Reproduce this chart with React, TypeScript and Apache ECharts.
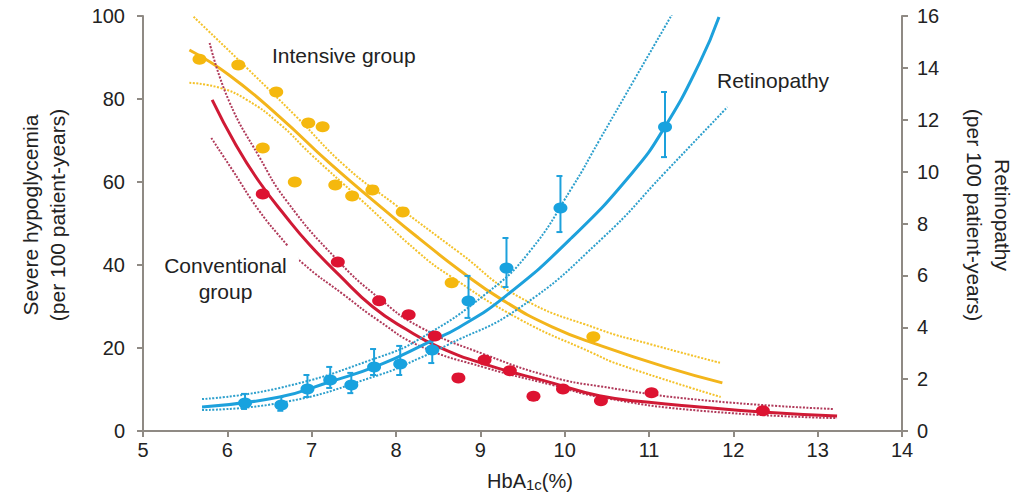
import React, { useEffect, useRef } from "react";
import * as echarts from "echarts";

const FONT = '"Liberation Sans", Arial, Helvetica, sans-serif';

// Severe hypoglycemia, intensive group: observed rates, fitted curve and confidence band
const intensivePoints: [number, number][] = [
  [5.67, 89.6], [6.13, 88.2], [6.42, 68.2], [6.58, 81.7], [6.8, 60.0], [6.96, 74.2],
  [7.13, 73.3], [7.28, 59.3], [7.48, 56.6], [7.72, 58.1], [8.08, 52.8], [8.66, 35.7],
  [10.34, 22.7],
];
const intensiveFit: [number, number][] = [
  [5.55, 91.8], [6.02, 85.8], [6.62, 75.7], [7.21, 64.6], [7.96, 51.6], [8.28, 46.3],
  [8.75, 38.8], [9.26, 31.6], [9.85, 25.1], [10.41, 20.7], [11.2, 15.4], [11.87, 11.6],
];
const intensiveUpper: [number, number][] = [
  [5.6, 99.8], [6.23, 87.5], [6.82, 75.7], [7.41, 63.6], [7.96, 55], [8.75, 43],
  [9.46, 32.3], [10.41, 24.5], [11.0, 21], [11.85, 16.4],
];
const intensiveLower: [number, number][] = [
  [5.55, 83.9], [5.91, 82.7], [6.23, 79.8], [6.62, 74], [7.0, 66.5], [7.57, 56],
  [8.28, 42.8], [8.63, 37.5], [9.46, 27], [10.33, 18.8], [10.65, 16], [11.85, 8.2],
];

// Severe hypoglycemia, conventional group
const conventionalPoints: [number, number][] = [
  [6.42, 57.1], [7.31, 40.7], [7.8, 31.4], [8.15, 28.0], [8.46, 22.9], [8.74, 12.8],
  [9.05, 17.1], [9.35, 14.5], [9.63, 8.4], [9.98, 10.1], [10.43, 7.3], [11.03, 9.2],
  [12.35, 4.9],
];
const conventionalFit: [number, number][] = [
  [5.82, 79.8], [6.1, 69], [6.38, 60], [6.7, 51.5], [6.97, 45], [7.33, 37.5], [7.72, 30],
  [8.12, 24.5], [8.51, 20.2], [9.07, 16], [9.85, 11.6], [10.41, 8.5], [11.0, 6.9],
  [11.6, 5.8], [12.34, 4.6], [13.23, 3.6],
];
const conventionalUpper: [number, number][] = [
  [5.79, 93.5], [6.02, 79.5], [6.38, 66], [6.7, 55.5], [7.29, 41.5], [7.8, 32],
  [8.28, 25.1], [9.07, 18.3], [9.85, 13.0], [10.41, 10.8], [11.6, 7.5], [13.19, 5.3],
];
const conventionalLower: [number, number][] = [
  [5.81, 70.6], [6.06, 62.9], [6.38, 53], [6.7, 45], [6.89, 40.5], [7.37, 33], [7.8, 26.5],
  [8.28, 20.5], [9.07, 15.2], [9.85, 11.1], [10.41, 8.2], [11.6, 4.9], [13.23, 3.1],
];

// Retinopathy (right axis): observed rates with error bars, fitted curve and band
const retinopathyPoints: [number, number][] = [
  [6.21, 1.08], [6.64, 1.0], [6.95, 1.62], [7.22, 1.97], [7.47, 1.77], [7.74, 2.47],
  [8.05, 2.58], [8.43, 3.12], [8.86, 5.01], [9.31, 6.28], [9.95, 8.6], [11.19, 11.72],
];
const retinopathyLow = [0.85, 0.78, 1.31, 1.66, 1.46, 2.16, 2.16, 2.62, 4.36, 5.55, 7.67, 10.56];
const retinopathyHigh = [1.43, 1.31, 2.16, 2.47, 2.24, 3.16, 3.28, 3.82, 5.98, 7.44, 9.83, 13.07];
const retinopathyFit: [number, number][] = [
  [5.7, 0.93], [6.62, 1.31], [7.21, 1.89], [7.8, 2.54], [8.39, 3.43], [8.75, 4.0],
  [9.3, 5.2], [10.08, 7.44], [10.8, 9.95], [11.18, 11.68], [11.6, 14.19], [11.83, 15.96],
];
const retinopathyUpper: [number, number][] = [
  [5.7, 1.23], [6.62, 1.66], [7.8, 2.85], [8.28, 3.55], [9.07, 5.3], [9.58, 6.9],
  [10.09, 9.4], [10.41, 11.2], [10.8, 13.4], [11.27, 16.04],
];
const retinopathyLower: [number, number][] = [
  [5.7, 0.81], [6.62, 1.08], [7.8, 2.16], [8.28, 2.81], [8.6, 3.3], [9.46, 4.74],
  [10.45, 7.44], [11.2, 10.0], [11.93, 12.49],
];

const YELLOW = "#F3B51B";
const YELLOW_DOT = "#F4C22A";
const RED = "#D01A35";
const RED_DOT = "#B03A5A";
const BLUE = "#1DA1DC";
const BLUE_DOT = "#2C9FCC";
const AXIS = "#8F8A84";
const TEXT = "#222";

function curve(data: [number, number][], color: string, yAxisIndex = 0) {
  return {
    type: "line",
    data,
    yAxisIndex,
    smooth: 0.5,
    showSymbol: false,
    silent: true,
    lineStyle: { color, width: 3 },
    z: 2,
  };
}

function band(data: [number, number][], color: string, yAxisIndex = 0) {
  return {
    type: "line",
    data,
    yAxisIndex,
    smooth: 0.5,
    showSymbol: false,
    silent: true,
    lineStyle: { color, width: 2, type: [2, 1.5] },
    z: 2,
  };
}

function points(data: [number, number][], color: string, yAxisIndex = 0) {
  return {
    type: "scatter",
    data,
    yAxisIndex,
    symbol: "circle",
    symbolSize: [14, 11],
    itemStyle: { color, opacity: 1 },
    z: 5,
  };
}

export default function App() {
  const ref = useRef<HTMLDivElement>(null);

  useEffect(() => {
    if (!ref.current) return;
    const chart = echarts.init(ref.current, undefined, { renderer: "svg" });

    const errorBars = retinopathyPoints.map((p, i) => [p[0], retinopathyLow[i], retinopathyHigh[i]]);

    const axisLine = { show: true, lineStyle: { color: AXIS, width: 2 } };
    const axisTick = { show: true, length: 6, lineStyle: { color: AXIS, width: 2 } };
    const label = { color: TEXT, fontSize: 20, fontFamily: FONT };

    chart.setOption({
      animation: false,
      backgroundColor: "#fff",
      grid: { left: 143, right: 131, top: 16, bottom: 63 },
      xAxis: {
        type: "value",
        min: 5,
        max: 14,
        interval: 1,
        axisLine: { ...axisLine, onZero: false },
        axisTick,
        axisLabel: { ...label, margin: 9 },
        splitLine: { show: false },
      },
      yAxis: [
        {
          type: "value",
          min: 0,
          max: 100,
          interval: 20,
          position: "left",
          axisLine,
          axisTick,
          axisLabel: { ...label, margin: 18 },
          splitLine: { show: false },
        },
        {
          type: "value",
          min: 0,
          max: 16,
          interval: 2,
          position: "right",
          axisLine,
          axisTick,
          axisLabel: { ...label, margin: 15 },
          splitLine: { show: false },
        },
      ],
      series: [
        band(intensiveUpper, YELLOW_DOT),
        band(intensiveLower, YELLOW_DOT),
        curve(intensiveFit, YELLOW),
        band(conventionalUpper, RED_DOT),
        band(conventionalLower, RED_DOT),
        curve(conventionalFit, RED),
        band(retinopathyUpper, BLUE_DOT, 1),
        band(retinopathyLower, BLUE_DOT, 1),
        curve(retinopathyFit, BLUE, 1),
        {
          type: "custom",
          yAxisIndex: 1,
          data: errorBars,
          encode: { x: 0, y: [1, 2] },
          silent: true,
          z: 4,
          renderItem: (_params: any, api: any) => {
            const x = api.value(0);
            const lo = api.coord([x, api.value(1)]);
            const hi = api.coord([x, api.value(2)]);
            const style = { stroke: BLUE, lineWidth: 2 };
            return {
              type: "group",
              children: [
                { type: "line", shape: { x1: hi[0], y1: hi[1], x2: lo[0], y2: lo[1] }, style },
                { type: "line", shape: { x1: hi[0] - 4, y1: hi[1], x2: hi[0] + 2, y2: hi[1] }, style },
                { type: "line", shape: { x1: lo[0] - 4, y1: lo[1], x2: lo[0] + 2, y2: lo[1] }, style },
              ],
            };
          },
        },
        points(intensivePoints, "#F5B80E"),
        points(conventionalPoints, "#DD1331"),
        points(retinopathyPoints, "#18A2DF", 1),
      ],
      graphic: [
        {
          type: "text",
          x: 43.5,
          y: 215,
          rotation: Math.PI / 2,
          z: 100,
          style: {
            text: "Severe hypoglycemia\n(per 100 patient-years)",
            align: "center",
            verticalAlign: "middle",
            font: `21px ${FONT}`,
            lineHeight: 27,
            fill: TEXT,
          },
        },
        {
          type: "text",
          x: 988.5,
          y: 215,
          rotation: -Math.PI / 2,
          z: 100,
          style: {
            text: "Retinopathy\n(per 100 patient-years)",
            align: "center",
            verticalAlign: "middle",
            font: `21px ${FONT}`,
            lineHeight: 28,
            fill: TEXT,
          },
        },
        {
          type: "text",
          x: 530,
          y: 481,
          z: 100,
          style: {
            text: "{a|HbA}{b|1c}{a|(%)}",
            align: "center",
            verticalAlign: "middle",
            fill: TEXT,
            rich: {
              a: { fontSize: 20, fontFamily: FONT, fill: TEXT },
              b: { fontSize: 15, fontFamily: FONT, fill: TEXT, padding: [7, 0, 0, 0] },
            },
          },
        },
        {
          type: "text",
          x: 272,
          y: 55,
          z: 100,
          style: {
            text: "Intensive group",
            align: "left",
            verticalAlign: "middle",
            font: `21px ${FONT}`,
            fill: TEXT,
          },
        },
        {
          type: "text",
          x: 717,
          y: 80,
          z: 100,
          style: {
            text: "Retinopathy",
            align: "left",
            verticalAlign: "middle",
            font: `21px ${FONT}`,
            fill: TEXT,
          },
        },
        {
          type: "text",
          x: 225.5,
          y: 278,
          z: 100,
          style: {
            text: "Conventional\ngroup",
            align: "center",
            verticalAlign: "middle",
            font: `21px ${FONT}`,
            lineHeight: 26,
            fill: TEXT,
            backgroundColor: "#fff",
            padding: [7, 12, 5, 12],
          },
        },
      ],
    });

    return () => chart.dispose();
  }, []);

  return (
    <div
      ref={ref}
      style={{ position: "fixed", left: 0, top: 0, width: 1033, height: 494, background: "#fff" }}
    />
  );
}
